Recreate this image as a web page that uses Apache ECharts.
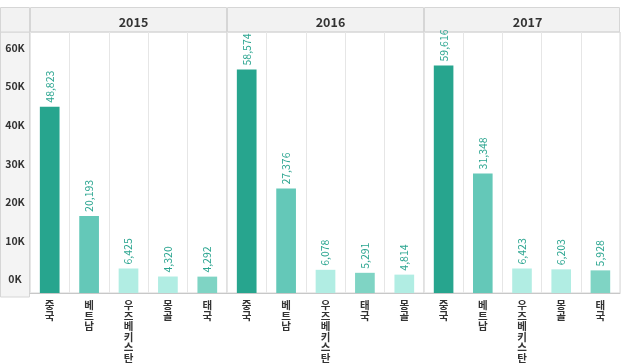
<!DOCTYPE html>
<html>
<head>
<meta charset="utf-8">
<script src="https://cdn.jsdelivr.net/npm/echarts@6/dist/echarts.min.js"></script>
<style>
html,body{margin:0;padding:0;background:#fff;}
#chart{width:621px;height:363px;}
</style>
</head>
<body>
<div id="chart"></div>
<script>
const years = ['2015', '2016', '2017'];
const categories2015 = ['중국', '베트남', '우즈베키스탄', '몽골', '태국'];
const categories2016 = ['중국', '베트남', '우즈베키스탄', '태국', '몽골'];
const categories2017 = ['중국', '베트남', '우즈베키스탄', '몽골', '태국'];
const values2015 = [48823, 20193, 6425, 4320, 4292];
const values2016 = [58574, 27376, 6078, 5291, 4814];
const values2017 = [59616, 31348, 6423, 6203, 5928];
const yTickValues = [0, 10000, 20000, 30000, 40000, 50000, 60000];

const countryColors = {
  '중국': '#27a58e',
  '베트남': '#64c8b8',
  '우즈베키스탄': '#b1ede3',
  '몽골': '#b1ede3',
  '태국': '#7fd4c4'
};

const panels = [
  {cats: categories2015, vals: values2015},
  {cats: categories2016, vals: values2016},
  {cats: categories2017, vals: values2017}
];

const plotTop = 32, plotBottom = 66, firstLeft = 30, panelW = 197;
const font = '"Noto Sans CJK KR", "Noto Sans", sans-serif';

const grids = [], xAxes = [], yAxes = [], series = [], titles = [];
panels.forEach((p, i) => {
  const left = firstLeft + i * panelW;
  grids.push({left: left, top: plotTop, width: i === 2 ? 196 : panelW, bottom: plotBottom,
    show: true, borderColor: '#d6d6d6', borderWidth: 1, backgroundColor: 'transparent'});
  xAxes.push({
    type: 'category', gridIndex: i, data: p.cats,
    axisLine: {show: true, lineStyle: {color: '#c8c8c8'}},
    axisTick: {show: false},
    splitLine: {show: true, lineStyle: {color: '#e6e6e6'}},
    axisLabel: {
      interval: 0, margin: 7, color: '#333', fontSize: 10.5, fontWeight: 'bold',
      lineHeight: 10.5, fontFamily: font,
      formatter: v => v.split('').join('\n'),
      verticalAlign: 'top'
    }
  });
  yAxes.push({
    type: 'value', gridIndex: i, min: 0, max: 68400, show: false,
    splitLine: {show: false}
  });
  series.push({
    type: 'bar', xAxisIndex: i, yAxisIndex: i, barWidth: '50%',
    data: p.vals.map((v, k) => ({value: v, itemStyle: {color: countryColors[p.cats[k]]}})),
    label: {
      show: true, position: 'top', rotate: 90, align: 'left', verticalAlign: 'middle',
      distance: 4, color: '#2ba590', fontSize: 10.5, fontFamily: font,
      formatter: d => d.value.toLocaleString('en-US')
    }
  });
  titles.push({
    text: years[i], left: left + panelW / 2, top: 11, textAlign: 'center',
    textStyle: {fontSize: 12.5, fontWeight: 'bold', color: '#333', fontFamily: font}
  });
});

// Label axis (tick labels placed as in the original chart)
yAxes.push({
  type: 'value', gridIndex: 0, min: -3500, max: 64100, position: 'left',
  axisLine: {show: false}, axisTick: {show: false}, splitLine: {show: false},
  axisLabel: {
    customValues: yTickValues, align: 'center', margin: 15,
    color: '#333', fontSize: 10.5, fontWeight: 'bold', fontFamily: font,
    formatter: v => (v / 1000) + 'K'
  }
});

const chart = echarts.init(document.getElementById('chart'), null, {renderer: 'canvas'});
chart.setOption({
  animation: false,
  backgroundColor: '#fff',
  graphic: [
    {type: 'rect', z: -10, shape: {x: 0.5, y: 32, width: 29, height: 265}, style: {fill: '#f4f4f4', stroke: '#d6d6d6', lineWidth: 1}},
    {type: 'rect', z: -10, shape: {x: 0.5, y: 7.5, width: 29, height: 24.5}, style: {fill: '#f2f2f2', stroke: '#d6d6d6', lineWidth: 1}},
    {type: 'rect', z: -10, shape: {x: 30.5, y: 7.5, width: 196, height: 24.5}, style: {fill: '#f2f2f2', stroke: '#d6d6d6', lineWidth: 1}},
    {type: 'rect', z: -10, shape: {x: 227.5, y: 7.5, width: 196, height: 24.5}, style: {fill: '#f2f2f2', stroke: '#d6d6d6', lineWidth: 1}},
    {type: 'rect', z: -10, shape: {x: 424.5, y: 7.5, width: 195, height: 24.5}, style: {fill: '#f2f2f2', stroke: '#d6d6d6', lineWidth: 1}}
  ],
  title: titles,
  grid: grids,
  xAxis: xAxes,
  yAxis: yAxes,
  series: series
});
</script>
</body>
</html>
